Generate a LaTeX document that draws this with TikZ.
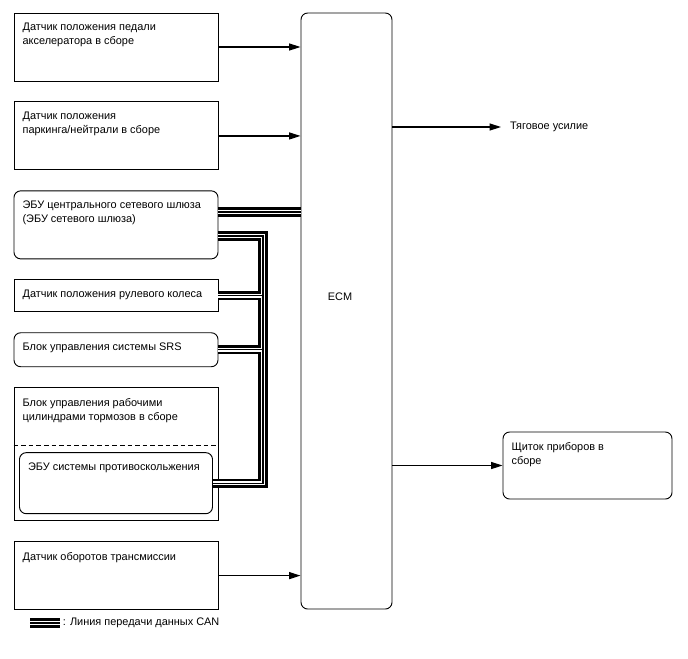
\documentclass[tikz,border=0pt]{standalone}
\usepackage{fontspec}
\setmainfont{Liberation Sans}
\usetikzlibrary{arrows.meta,positioning}

\begin{document}
\begin{tikzpicture}[
  x=0.75pt, y=-0.75pt,
  node distance=15pt,
  box/.style={rectangle, draw, line width=0.7pt, minimum width=153pt, minimum height=51pt, inner sep=0pt},
  rbox/.style={box, rounded corners=5pt},
  txt/.style={anchor=north west, align=left, inner xsep=6.6pt, inner ysep=8pt, font=\fontsize{8.2}{10.5}\selectfont},
  arr/.style={-{Triangle[length=8.5pt,width=5.2pt]}, line width=0.9pt},
  can/.style={draw=white, line width=3.2pt, preaction={draw=black, line width=7pt}, postaction={draw=black, line width=0.8pt}}
]
\useasboundingbox (0,0) rectangle (688,658);

% left column
\node[box] (app) at (116,47) {};
\node[box, below=of app] (pnp) {};
\node[rbox, below=of pnp] (gw) {};
\node[box, below=of gw, minimum height=24pt] (str) {};
\node[rbox, below=of str, minimum height=25.5pt] (srs) {};
\node[box, below=of srs, minimum height=99.75pt] (brk) {};
\node[rbox, anchor=south, minimum width=144.75pt, minimum height=45.75pt] (abs) at ([yshift=5.25pt]brk.south) {};
\node[box, below=of brk] (nt) {};
\draw[line width=0.7pt, dash pattern=on 3.5pt off 2.2pt] (brk.west |- 0,445) -- (brk.east |- 0,445);

\node[txt] (app-l) at (app.north west) {Датчик положения педали\\акселератора в сборе};
\node[txt] (pnp-l) at (pnp.north west) {Датчик положения\\паркинга/нейтрали в сборе};
\node[txt] (gw-l)  at (gw.north west)  {ЭБУ центрального сетевого шлюза\\(ЭБУ сетевого шлюза)};
\node[txt] (str-l) at (str.north west) {Датчик положения рулевого колеса};
\node[txt] (srs-l) at (srs.north west) {Блок управления системы SRS};
\node[txt] (brk-l) at (brk.north west) {Блок управления рабочими\\цилиндрами тормозов в сборе};
\node[txt] (abs-l) at (abs.north west) {ЭБУ системы противоскольжения};
\node[txt] (nt-l)  at (nt.north west)  {Датчик оборотов трансмиссии};

% ECM and outputs
\node[rbox, minimum width=68.25pt, minimum height=447pt] (ecm) at (346.5,311) {};
\node[txt, anchor=center, inner sep=0pt] (ecm-l) at (340,297) {ECM};
\node[rbox, minimum width=126.75pt, minimum height=50.25pt] (ipc) at (587.5,465.5) {};
\node[txt] (ipc-l) at (ipc.north west) {Щиток приборов в\\сборе};
\node[txt, anchor=west] (trac) at (501,127) {Тяговое усилие};

\draw[arr] (app.east) -- (app.east -| ecm.west);
\draw[arr] (pnp.east) -- (pnp.east -| ecm.west);
\draw[arr] (nt.east)  -- (nt.east -| ecm.west);
\draw[arr] (ecm.east |- trac) -- (trac.west);
\draw[arr] (ecm.east |- ipc.west) -- (ipc.west);

% CAN bus
\coordinate (bus) at (263,236);
\draw[can] (gw.east |- 0,212) -- (ecm.west |- 0,212)
  (gw.east |- bus) -| (bus |- abs.east) -- (abs.east)
  (str.east) -- (bus |- str.east)
  (srs.east) -- (bus |- srs.east);

% legend
\coordinate (legend) at (30,623);
\node[txt, anchor=west, inner sep=2pt] (legend-l) at (60,623) {: Линия передачи данных CAN};
\draw[can] (legend) -- (legend-l.west);
\end{tikzpicture}
\end{document}
